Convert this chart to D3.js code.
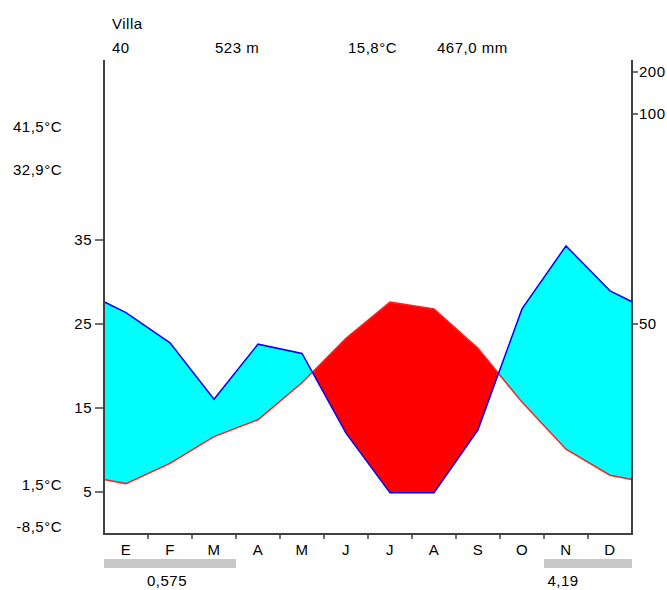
<!DOCTYPE html>
<html>
<head>
<meta charset="utf-8">
<script src="https://cdn.jsdelivr.net/npm/d3@7"></script>
<style>
  body { margin: 0; background: #fff; }
  svg text { font-family: "Liberation Sans", Arial, sans-serif; font-size: 15px; letter-spacing: 0.5px; fill: #000; }
</style>
</head>
<body>
<svg id="chart" width="667" height="590"></svg>
<script>
// datos del climograma
let months = ["E", "F", "M", "A", "M", "J", "J", "A", "S", "O", "N", "D"];
let temp = [6.0, 8.4, 11.6, 13.6, 18.0, 23.3, 27.6, 26.8, 22.1, 15.7, 10.1, 7.0];
let precip = [52.7, 45.5, 32.1, 45.2, 43.0, 24.0, 9.8, 9.8, 24.8, 53.6, 68.6, 57.9];
let frost = [1, 1, 1, 0, 0, 0, 0, 0, 0, 0, 1, 1];
let frostTexts = ["0,575", "4,19"];
let frostTextMonth = [1, 10];
let headerTexts = ["40", "523 m", "15,8°C", "467,0 mm"];
let station = "Villa";
let tempTicks = [5, 15, 25, 35];
let precipTicks = [50, 100, 200];
let extremeTexts = ["41,5°C", "32,9°C", "1,5°C", "-8,5°C"];

let plotLeft = 104, plotRight = 632, plotTop = 60, plotBottom = 534;
let svg = d3.select('#chart');

//escalas
let x = d3.scaleBand().domain(d3.range(12)).range([plotLeft, plotRight]);
let yT = d3.scaleLinear().domain([0, 50]).range([plotBottom, 114]);
let yP = d3.scaleLinear().domain([0, 100, 200]).range([plotBottom, 114, 72]);

// puntos en el centro de cada mes + bordes (media dic/ene)
let pts = months.map(function (m, i) {
    return {x: x(i) + x.bandwidth() / 2, t: temp[i], p: precip[i]};
});
let tEdge = (temp[0] + temp[11]) / 2, pEdge = (precip[0] + precip[11]) / 2;
pts.unshift({x: plotLeft, t: tEdge, p: pEdge});
pts.push({x: plotRight, t: tEdge, p: pEdge});

let defs = svg.append('defs');
defs.append('clipPath').attr('id', 'aboveTemp')
    .append('path')
    .attr('d', d3.area().x(d => d.x).y0(0).y1(d => yT(d.t))(pts));
defs.append('clipPath').attr('id', 'abovePrecip')
    .append('path')
    .attr('d', d3.area().x(d => d.x).y0(0).y1(d => yP(d.p))(pts));

let band = d3.area().x(d => d.x).y0(d => yT(d.t)).y1(d => yP(d.p));

svg.append('path').attr('d', band(pts))
    .attr('fill', '#00ffff').attr('clip-path', 'url(#aboveTemp)');
svg.append('path').attr('d', band(pts))
    .attr('fill', '#ff0000').attr('clip-path', 'url(#abovePrecip)');

svg.append('path')
    .attr('d', d3.line().x(d => d.x).y(d => yT(d.t))(pts))
    .attr('fill', 'none').attr('stroke', '#ff2020').attr('stroke-width', 1.5);
svg.append('path')
    .attr('d', d3.line().x(d => d.x).y(d => yP(d.p))(pts))
    .attr('fill', 'none').attr('stroke', '#0000ff').attr('stroke-width', 1.5);

//ejes
let axisColor = '#404040';
svg.append('path')
    .attr('d', `M${plotLeft},${plotTop}V${plotBottom}H${plotRight}V${plotTop}`)
    .attr('fill', 'none').attr('stroke', axisColor).attr('stroke-width', 2);

let gl = svg.append('g');
gl.selectAll('line').data(tempTicks).enter().append('line')
    .attr('x1', plotLeft - 9).attr('x2', plotLeft)
    .attr('y1', d => yT(d)).attr('y2', d => yT(d))
    .attr('stroke', axisColor).attr('stroke-width', 1.5);
gl.selectAll('text').data(tempTicks).enter().append('text')
    .attr('x', plotLeft - 12).attr('y', d => yT(d) + 5)
    .attr('text-anchor', 'end').text(d => d);

let gr = svg.append('g');
gr.selectAll('line').data(precipTicks).enter().append('line')
    .attr('x1', plotRight).attr('x2', plotRight + 6)
    .attr('y1', d => yP(d)).attr('y2', d => yP(d))
    .attr('stroke', axisColor).attr('stroke-width', 1.5);
gr.selectAll('text').data(precipTicks).enter().append('text')
    .attr('x', plotRight + 7).attr('y', d => yP(d) + 5)
    .text(d => d);

// meses
svg.selectAll('line.mtick').data(d3.range(1, 12)).enter().append('line')
    .attr('class', 'mtick')
    .attr('x1', d => x(d)).attr('x2', d => x(d))
    .attr('y1', plotBottom).attr('y2', plotBottom + 5)
    .attr('stroke', axisColor).attr('stroke-width', 1.5);
svg.selectAll('text.month').data(months).enter().append('text')
    .attr('class', 'month')
    .attr('x', (d, i) => x(i) + x.bandwidth() / 2).attr('y', 555)
    .attr('text-anchor', 'middle').text(d => d);

// heladas
svg.selectAll('rect.frost').data(frost).enter().append('rect')
    .attr('class', 'frost')
    .attr('x', (d, i) => x(i)).attr('y', 559)
    .attr('width', (d) => d ? x.bandwidth() : 0).attr('height', 9)
    .attr('fill', '#c8c8c8');
svg.selectAll('text.frost').data(frostTexts).enter().append('text')
    .attr('class', 'frost')
    .attr('x', (d, i) => x(frostTextMonth[i]) + x.bandwidth() / 2 - 3).attr('y', 586)
    .attr('text-anchor', 'middle').text(d => d);

// cabecera
svg.append('text').attr('x', 112).attr('y', 29).text(station);
let headX = [112, 215, 348, 437];
svg.selectAll('text.head').data(headerTexts).enter().append('text')
    .attr('class', 'head')
    .attr('x', (d, i) => headX[i]).attr('y', 53).text(d => d);

// extremos
let extY = [132, 175, 490, 532];
svg.selectAll('text.ext').data(extremeTexts).enter().append('text')
    .attr('class', 'ext')
    .attr('x', 62).attr('y', (d, i) => extY[i])
    .attr('text-anchor', 'end').text(d => d);
</script>
</body>
</html>
